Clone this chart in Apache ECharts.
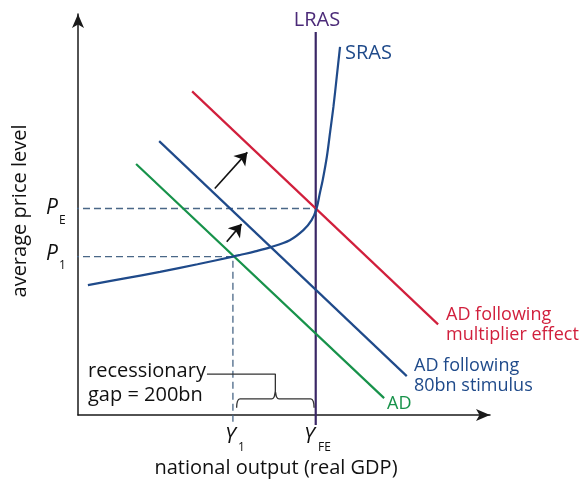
<!DOCTYPE html>
<html><head><meta charset="utf-8">
<script src="https://cdn.jsdelivr.net/npm/echarts@6/dist/echarts.min.js"></script>
<style>html,body{margin:0;padding:0;background:#fff}#c{width:579px;height:482px}</style>
</head><body><div id="c"></div>
<script>
// ---- data (abstract units: output in bn, price index 0-100) ----
const Y1 = 376, YFE = 577;          // national output levels (gap ~ 200bn)
const P1 = 39.5, PE = 51.5;         // price levels
const adX = [141, 743];  const adY = [62.6, 4.2];
const ad80X = [197, 798]; const ad80Y = [68.3, 9.7];
const adMultX = [277, 874]; const adMultY = [80.7, 22.6];
const srasX = [24, 110, 199, 290, 376, 393, 430, 466, 514, 547, 567, 579, 587, 594, 604, 612, 620, 628, 636];
const srasY = [32.4, 34.0, 35.7, 37.6, 39.5, 39.9, 40.8, 41.8, 43.6, 46.1, 48.6, 51.5, 55.3, 58.6, 64.4, 70.6, 76.9, 84.3, 91.8];
const lrasY = [-2.5, 95.5];
const arrowBig = [[332, 56.5], [411, 65.5]];
const arrowSmall = [[361, 43.2], [397, 47.6]];
const axisStart = -14.6, belowAxis = -2.5;

const zip = (a, b) => a.map((v, i) => [v, b[i]]);
const chart = echarts.init(document.getElementById('c'));
const FONT = '"Open Sans", "Noto Sans", sans-serif';

// brace derived from Y1 / YFE
const bl = Y1 + 9, br = YFE - 4, bm = 479;
const brace = [[bl, 1.8], [bl + 2, 3.4], [bl + 8, 4], [bm - 9, 4], [bm - 3, 4.5], [bm, 5.8], [bm + 3, 4.5], [bm + 9, 4], [br - 8, 4], [br - 2, 3.4], [br, 1.8]];
const braceLabel = [[313, 10.2], [bm, 10.2], [bm, 5.8]];

const base = {type: 'line', symbol: 'none', clip: false, silent: true, z: 3};
chart.setOption({
  animation: false,
  grid: {left: 78, top: 14, width: 412, height: 401},
  xAxis: {type: 'value', min: 0, max: 1000, splitLine: {show: false}, axisTick: {show: false}, axisLabel: {show: false},
    axisLine: {lineStyle: {color: '#1a1a1a', width: 1.5}, symbol: ['none', 'arrow'], symbolSize: [9, 14], symbolOffset: [0, 0]}},
  yAxis: {type: 'value', min: 0, max: 100, splitLine: {show: false}, axisTick: {show: false}, axisLabel: {show: false},
    axisLine: {lineStyle: {color: '#1a1a1a', width: 1.5}, symbol: ['none', 'arrow'], symbolSize: [9, 14], symbolOffset: [0, 0]}},
  series: [
    Object.assign({}, base, {data: [[axisStart, PE], [YFE, PE]], lineStyle: {color: '#4a6787', width: 1.3, type: [7, 4]}}),
    Object.assign({}, base, {data: [[axisStart, P1], [Y1, P1], [Y1, belowAxis]], lineStyle: {color: '#4a6787', width: 1.3, type: [7, 4]}}),
    Object.assign({}, base, {data: zip(adX, adY), lineStyle: {color: '#17924a', width: 2.2}}),
    Object.assign({}, base, {data: zip(ad80X, ad80Y), lineStyle: {color: '#1f4a8a', width: 2.2}}),
    Object.assign({}, base, {data: zip(adMultX, adMultY), lineStyle: {color: '#d11f3c', width: 2.2}}),
    Object.assign({}, base, {data: zip(srasX, srasY), smooth: 0.35, lineStyle: {color: '#1f4a8a', width: 2.2}}),
    Object.assign({}, base, {data: [[YFE, lrasY[0]], [YFE, lrasY[1]]], lineStyle: {color: '#3a2766', width: 2.2}, z: 2}),
    Object.assign({}, base, {data: brace, smooth: 0.4, lineStyle: {color: '#333', width: 1.3}}),
    Object.assign({}, base, {data: braceLabel, lineStyle: {color: '#333', width: 1.3}}),
    {type: 'lines', coordinateSystem: 'cartesian2d', silent: true, z: 4,
      symbol: ['none', 'arrow'], symbolSize: 12,
      lineStyle: {color: '#111', width: 1.6, opacity: 1},
      data: [{coords: arrowBig}, {coords: arrowSmall}]}
  ],
  graphic: [
    {type: 'text', x: 317, y: 20, style: {text: 'LRAS', font: '20px ' + FONT, fill: '#4b2a78', align: 'center', verticalAlign: 'middle'}},
    {type: 'text', x: 345, y: 53, style: {text: 'SRAS', font: '20px ' + FONT, fill: '#1f4a8a', align: 'left', verticalAlign: 'middle'}},
    {type: 'text', x: 446, y: 315, style: {text: 'AD following', font: '18px ' + FONT, fill: '#d11f3c', verticalAlign: 'middle'}},
    {type: 'text', x: 446, y: 335, style: {text: 'multiplier effect', font: '18px ' + FONT, fill: '#d11f3c', verticalAlign: 'middle'}},
    {type: 'text', x: 414, y: 366, style: {text: 'AD following', font: '18px ' + FONT, fill: '#1f4a8a', verticalAlign: 'middle'}},
    {type: 'text', x: 414, y: 386, style: {text: '80bn stimulus', font: '18px ' + FONT, fill: '#1f4a8a', verticalAlign: 'middle'}},
    {type: 'text', x: 387, y: 404, style: {text: 'AD', font: '18px ' + FONT, fill: '#17924a', verticalAlign: 'middle'}},
    {type: 'text', x: 88, y: 371, style: {text: 'recessionary', font: '20px ' + FONT, fill: '#111', verticalAlign: 'middle'}},
    {type: 'text', x: 88, y: 395, style: {text: 'gap = 200bn', font: '20px ' + FONT, fill: '#111', verticalAlign: 'middle'}},
    {type: 'text', x: 276, y: 468, style: {text: 'national output (real GDP)', font: '20px ' + FONT, fill: '#111', align: 'center', verticalAlign: 'middle'}},
    {type: 'text', x: 20, y: 211, rotation: Math.PI / 2, style: {text: 'average price level', font: '20px ' + FONT, fill: '#111', align: 'center', verticalAlign: 'middle'}},
    {type: 'text', x: 46, y: 208, style: {text: 'P', font: 'italic 21px ' + FONT, fill: '#111', verticalAlign: 'middle'}},
    {type: 'text', x: 59, y: 221, style: {text: 'E', font: '12px ' + FONT, fill: '#111', verticalAlign: 'middle'}},
    {type: 'text', x: 46, y: 254, style: {text: 'P', font: 'italic 21px ' + FONT, fill: '#111', verticalAlign: 'middle'}},
    {type: 'text', x: 59, y: 266, style: {text: '1', font: '12px ' + FONT, fill: '#111', verticalAlign: 'middle'}},
    {type: 'text', x: 225, y: 437, style: {text: 'Y', font: 'italic 21px ' + FONT, fill: '#111', verticalAlign: 'middle'}},
    {type: 'text', x: 238, y: 448, style: {text: '1', font: '12px ' + FONT, fill: '#111', verticalAlign: 'middle'}},
    {type: 'text', x: 304, y: 437, style: {text: 'Y', font: 'italic 21px ' + FONT, fill: '#111', verticalAlign: 'middle'}},
    {type: 'text', x: 318, y: 448, style: {text: 'FE', font: '12px ' + FONT, fill: '#111', verticalAlign: 'middle'}}
  ]
});
</script></body></html>
